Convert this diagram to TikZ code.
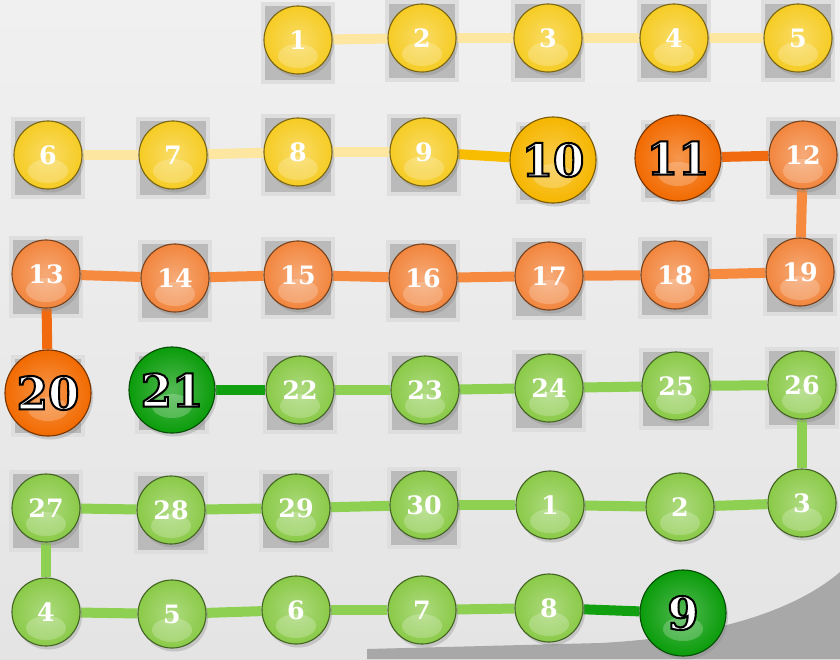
\documentclass[tikz,border=0pt]{standalone}
\usepackage{fontspec}
\setmainfont{DejaVu Serif}
\newfontfamily\outlinefont{DejaVu Serif Bold}[FakeBold=4.5]
\usepackage{tikz}
\usetikzlibrary{shadows,backgrounds}
\newcommand\outlined[1]{\special{pdf:code 0 0 0 RG}#1}
\definecolor{calYellow}{RGB}{246,204,36}
\definecolor{calGold}{RGB}{246,182,0}
\definecolor{calDarkOrange}{RGB}{242,106,0}
\definecolor{calOrange}{RGB}{242,134,62}
\definecolor{calDarkGreen}{RGB}{10,156,10}
\definecolor{calGreen}{RGB}{138,202,72}
\definecolor{linkYellow}{RGB}{253,230,160}
\definecolor{linkGold}{RGB}{248,188,0}
\definecolor{linkDarkOrange}{RGB}{242,106,16}
\definecolor{linkOrange}{RGB}{246,138,62}
\definecolor{linkDarkGreen}{RGB}{16,160,16}
\definecolor{linkGreen}{RGB}{142,209,82}
\definecolor{bgTop}{RGB}{240,240,240}
\definecolor{bgBottom}{RGB}{228,228,228}

\begin{document}
\begin{tikzpicture}[x=0.025cm,y=-0.025cm,
    day/.style={circle,inner sep=0pt,minimum size=1.7cm,text=white,
                font=\fontsize{18}{18}\selectfont\bfseries,
                inner color=#1!70!white,outer color=#1,
                draw=#1!50!black,line width=0.8pt,
                drop shadow={shadow xshift=1.5pt,shadow yshift=-2.5pt,opacity=0.3},
                path picture={\fill[white,opacity=0.22]
                  ([yshift=-0.4cm]path picture bounding box.center) ellipse (0.5cm and 0.3cm);}},
    big/.style={day=#1,minimum size=2.15cm,font=\outlinefont\fontsize{32}{32}\selectfont},
    sq/.style={fill=black!27,draw=black!13,line width=1mm},
    link/.style={line width=2.5mm,#1}]

    \useasboundingbox (0,0) rectangle (840,659);

    % first month
    \foreach \n/\x/\y in {1/298/40,2/422/38,3/548/38,4/674/38,5/798/38,
                          6/48/155,7/173/155,8/298/152,9/424/152} {
      \node[day=calYellow] (d\n) at (\x,\y) {\n};
    }
    \node[big=calGold] (d10) at (553,160) {\outlined{10}};
    \node[big=calDarkOrange] (d11) at (678,158) {\outlined{11}};
    \foreach \n/\x/\y in {12/803/155,13/46/274,14/175/278,15/298/275,16/423/278,
                          17/549/276,18/675/275,19/800/272} {
      \node[day=calOrange] (d\n) at (\x,\y) {\n};
    }
    \node[big=calDarkOrange] (d20) at (48,393) {\outlined{20}};
    \node[big=calDarkGreen] (d21) at (172,390) {\outlined{21}};
    \foreach \n/\x/\y in {22/300/390,23/425/390,24/549/388,25/676/386,26/802/385,
                          27/46/508,28/171/510,29/296/508,30/424/505} {
      \node[day=calGreen] (d\n) at (\x,\y) {\n};
    }

    % next month
    \foreach \n/\x/\y in {1/550/505,2/680/507,3/802/503,
                          4/46/612,5/172/614,6/296/610,7/422/610,8/549/608} {
      \node[day=calGreen] (e\n) at (\x,\y) {\n};
    }
    \node[big=calDarkGreen] (e9) at (683,613) {\outlined{9}};

    \begin{scope}[on background layer]
      \fill[top color=bgTop,bottom color=bgBottom] (0,0) rectangle (840,659);
      \fill[black!34] (367,659) -- (367,649) -- (600,643)
        .. controls (700,638) and (790,615) .. (840,572) -- (840,659) -- cycle;
      \foreach \n in {1,...,30} {
        \draw[sq] ([shift={(-35,-36)}]d\n.center) rectangle ([shift={(35,42)}]d\n.center);
      }

      \foreach \i/\j in {1/2,2/3,3/4,4/5,6/7,7/8,8/9} {
        \draw[link=linkYellow] (d\i) -- (d\j);
      }
      \draw[link=linkGold] (d9) -- (d10);
      \draw[link=linkDarkOrange] (d11) -- (d12);
      \draw[link=linkDarkOrange] (d13) -- (d20);
      \foreach \i/\j in {12/19,13/14,14/15,15/16,16/17,17/18,18/19} {
        \draw[link=linkOrange] (d\i) -- (d\j);
      }
      \draw[link=linkDarkGreen] (d21) -- (d22);
      \foreach \i/\j in {22/23,23/24,24/25,25/26,27/28,28/29,29/30} {
        \draw[link=linkGreen] (d\i) -- (d\j);
      }
      \draw[link=linkGreen] (d26) -- (e3);
      \draw[link=linkGreen] (d30) -- (e1);
      \draw[link=linkGreen] (d27) -- (e4);
      \foreach \i/\j in {1/2,2/3,4/5,5/6,6/7,7/8} {
        \draw[link=linkGreen] (e\i) -- (e\j);
      }
      \draw[link=linkDarkGreen] (e8) -- (e9);
    \end{scope}
  \end{tikzpicture}
\end{document}
